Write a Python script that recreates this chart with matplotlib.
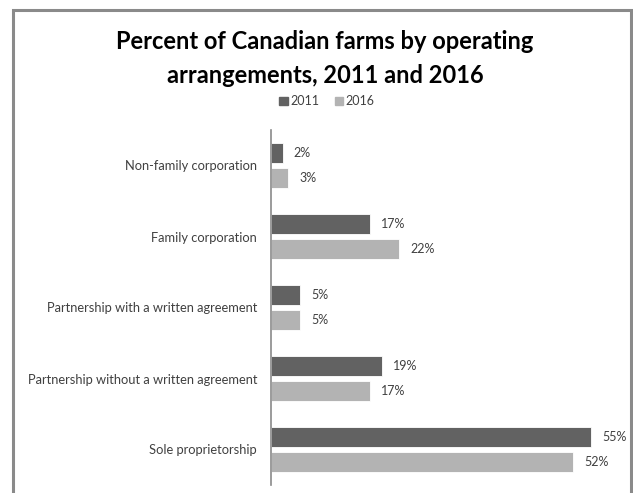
import matplotlib
matplotlib.use("Agg")
import matplotlib.pyplot as plt
from matplotlib.patches import Rectangle, Patch
import numpy as np

categories = ["Non-family corporation", "Family corporation",
              "Partnership with a written agreement",
              "Partnership without a written agreement",
              "Sole proprietorship"]
series_names = ["2011", "2016"]
values_2011 = [2, 17, 5, 19, 55]
values_2016 = [3, 22, 5, 17, 52]

W, H = 633, 493
fig = plt.figure(figsize=(W / 100, H / 100), dpi=100)
plt.rcParams['font.family'] = ['Lato', 'DejaVu Sans']

# outer frame
fig.patches.append(Rectangle((13 / W, -0.05), (631 - 13) / W, 1.05 - 10 / H,
                             transform=fig.transFigure, fill=False,
                             edgecolor='#8a8a8a', lw=2.2))

ax = fig.add_axes([271 / W, 1 - 485 / H, (620 - 271) / W, (485 - 130) / H])
y = np.arange(len(categories))
h = 0.27
off = 0.175
c1, c2 = '#626262', '#b3b3b3'
b1 = ax.barh(y - off, values_2011, height=h, color=c1, edgecolor='white', lw=0.6)
b2 = ax.barh(y + off, values_2016, height=h, color=c2, edgecolor='white', lw=0.6)
for bars, vals in ((b1, values_2011), (b2, values_2016)):
    for r, v in zip(bars, vals):
        ax.annotate(f"{v}%", (r.get_width(), r.get_y() + r.get_height() / 2),
                    xytext=(8, 0), textcoords='offset points', va='center',
                    ha='left', fontsize=9, color='#404040')

ax.set_xlim(0, 60)
ax.set_ylim(len(categories) - 0.5, -0.5)
ax.set_yticks(y)
ax.set_yticklabels(categories, fontsize=9.3, color='#404040')
ax.tick_params(axis='y', length=0, pad=10)
ax.set_xticks([])
for s in ('top', 'right', 'bottom'):
    ax.spines[s].set_visible(False)
ax.spines['left'].set_color('#8a8a8a')
ax.spines['left'].set_linewidth(1.2)

fig.text(325 / W, 1 - 58.5 / H, "Percent of Canadian farms by operating\narrangements, 2011 and 2016",
         ha='center', va='center', fontsize=17, fontweight='bold',
         color='black', linespacing=1.55)

handles = [Patch(color=c1, label=series_names[0]), Patch(color=c2, label=series_names[1])]
fig.legend(handles=handles, loc='center', bbox_to_anchor=(327 / W, 1 - 101.5 / H),
           ncol=2, frameon=False, fontsize=9, handlelength=0.7, handleheight=0.7,
           handletextpad=0.2, columnspacing=1.2, labelcolor='#404040')

fig.savefig("out.png", dpi=100)
